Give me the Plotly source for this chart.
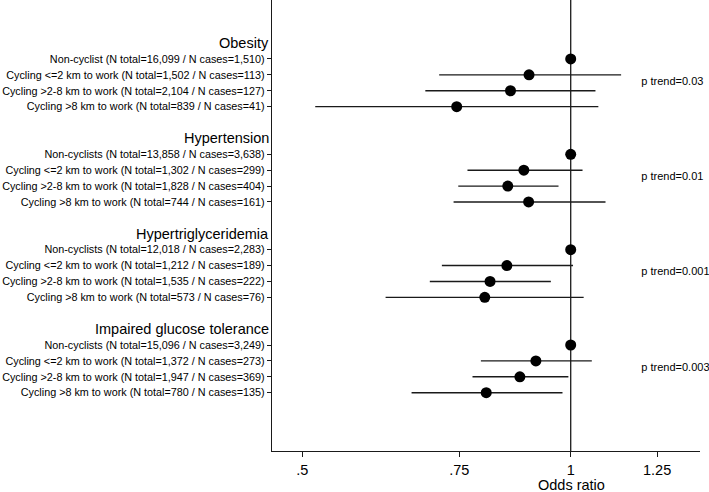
import plotly.graph_objects as go

groups = ["Obesity", "Hypertension", "Hypertriglyceridemia", "Impaired glucose tolerance"]
row_labels = [
    "Non-cyclist (N total=16,099 / N cases=1,510)",
    "Cycling <=2 km to work (N total=1,502 / N cases=113)",
    "Cycling >2-8 km to work (N total=2,104 / N cases=127)",
    "Cycling >8 km to work (N total=839 / N cases=41)",
    "Non-cyclists (N total=13,858 / N cases=3,638)",
    "Cycling <=2 km to work (N total=1,302 / N cases=299)",
    "Cycling >2-8 km to work (N total=1,828 / N cases=404)",
    "Cycling >8 km to work (N total=744 / N cases=161)",
    "Non-cyclists (N total=12,018 / N cases=2,283)",
    "Cycling <=2 km to work (N total=1,212 / N cases=189)",
    "Cycling >2-8 km to work (N total=1,535 / N cases=222)",
    "Cycling >8 km to work (N total=573 / N cases=76)",
    "Non-cyclists (N total=15,096 / N cases=3,249)",
    "Cycling <=2 km to work (N total=1,372 / N cases=273)",
    "Cycling >2-8 km to work (N total=1,947 / N cases=369)",
    "Cycling >8 km to work (N total=780 / N cases=135)",
]
odds_ratio = [1.0, 0.898, 0.856, 0.745,
              1.0, 0.886, 0.850, 0.897,
              1.0, 0.848, 0.812, 0.801,
              1.0, 0.914, 0.877, 0.804]
ci_low = [None, 0.712, 0.687, 0.517,
          None, 0.766, 0.748, 0.739,
          None, 0.717, 0.695, 0.620,
          None, 0.793, 0.776, 0.663]
ci_high = [None, 1.139, 1.066, 1.074,
           None, 1.031, 0.969, 1.094,
           None, 1.006, 0.950, 1.034,
           None, 1.056, 0.994, 0.979]
p_trend = ["p trend=0.03", "p trend=0.01", "p trend=0.001", "p trend=0.003"]
x_ticks = [0.5, 0.75, 1, 1.25]
x_tick_labels = [".5", ".75", "1", "1.25"]

FONT = "Liberation Sans, Arial, Helvetica, sans-serif"

# y positions: each group takes 6 slots (header + 4 rows + gap)
row_y = [g * 6 + r + 1 for g in range(4) for r in range(4)]
header_y = [g * 6 for g in range(4)]

line_x, line_y = [], []
for lo, hi, y in zip(ci_low, ci_high, row_y):
    if lo is None:
        continue
    line_x += [lo, hi, None]
    line_y += [y, y, None]

fig = go.Figure()
fig.add_trace(go.Scatter(x=line_x, y=line_y, mode="lines",
                         line=dict(color="#1a1a1a", width=1.4),
                         hoverinfo="skip", showlegend=False))
fig.add_trace(go.Scatter(x=odds_ratio, y=row_y, mode="markers",
                         marker=dict(color="black", size=11, symbol="circle"),
                         showlegend=False))
fig.add_trace(go.Scatter(x=[1.2] * 4, y=[h + 2.45 for h in header_y], mode="text",
                         text=p_trend, textposition="middle right", cliponaxis=False,
                         textfont=dict(family=FONT, size=11, color="black"),
                         showlegend=False, hoverinfo="skip"))

fig.add_shape(type="line", xref="x", yref="paper", x0=1, x1=1, y0=0, y1=1,
              line=dict(color="#1a1a1a", width=1.3), layer="below")

for g, h in zip(groups, header_y):
    fig.add_annotation(xref="paper", yref="y", x=0, y=h, text=g, showarrow=False,
                       xanchor="right", yanchor="middle", xshift=-1,
                       font=dict(family=FONT, size=14.5, color="black"))

fig.add_annotation(xref="paper", yref="paper", x=(571 - 272) / 428, y=0, yshift=-34,
                   text="Odds ratio", showarrow=False, xanchor="center", yanchor="middle",
                   font=dict(family=FONT, size=14.5, color="black"))

fig.update_layout(
    width=709, height=492,
    margin=dict(l=272, r=9, t=0, b=41),
    paper_bgcolor="white", plot_bgcolor="white",
    font=dict(family=FONT, color="black"),
    xaxis=dict(type="log", range=[-0.335, 0.145], automargin=False,
               tickvals=x_ticks, ticktext=x_tick_labels,
               ticks="outside", ticklen=5, tickwidth=1.2, tickcolor="#1a1a1a",
               showline=True, linecolor="#1a1a1a", linewidth=1.3,
               showgrid=False, zeroline=False,
               tickfont=dict(family=FONT, size=14.5, color="black")),
    yaxis=dict(range=[25.67, -2.71], tickvals=row_y, ticktext=row_labels,
               automargin=False,
               ticks="outside", ticklen=4, tickwidth=1, tickcolor="#1a1a1a",
               showline=True, linecolor="#1a1a1a", linewidth=1.3,
               showgrid=False, zeroline=False,
               tickfont=dict(family=FONT, size=10.8, color="black")),
)

fig.write_html("out.html", config={"displayModeBar": False},
               post_script="document.body.style.margin='0';")
